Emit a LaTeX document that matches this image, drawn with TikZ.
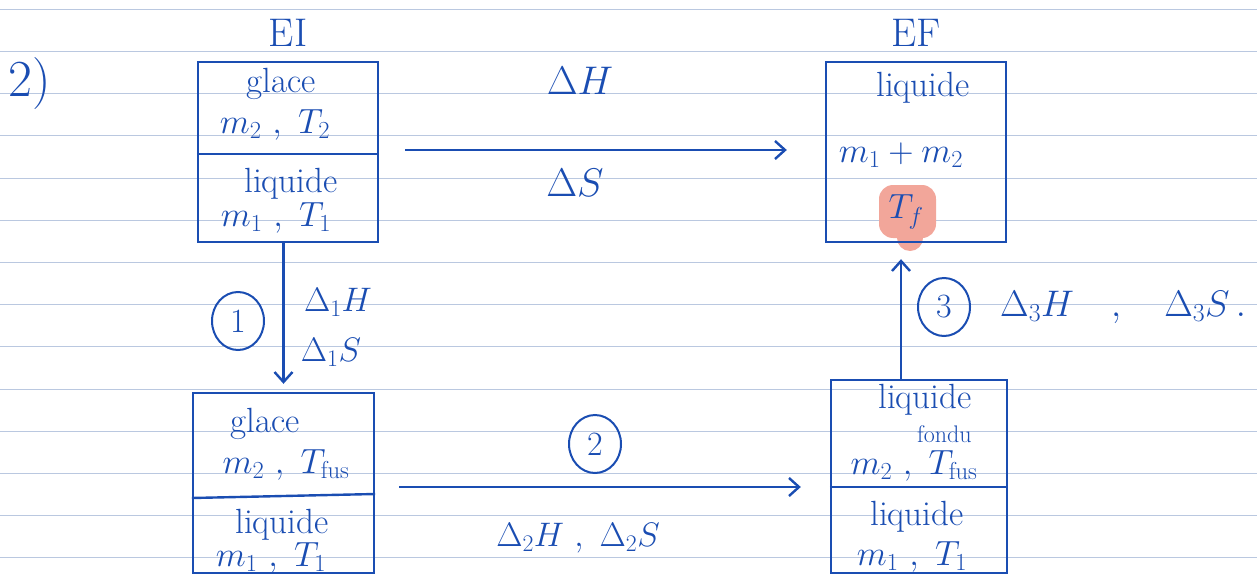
\documentclass[tikz,border=0pt]{standalone}
\usepackage{fontspec}
\usepackage{fix-cm}
\usepackage{xcolor}
\usepackage{tikz}
\usetikzlibrary{arrows.meta, positioning, shapes.geometric}
\definecolor{inkblue}{HTML}{1A4DB2}
\definecolor{ruleblue}{HTML}{BAC8E0}
\definecolor{marker}{HTML}{F2A69A}

\begin{document}
\begin{tikzpicture}[
  x=1pt, y=-1pt,
  node distance=12pt,
  every node/.style={text=inkblue, inner sep=0pt, font=\fontsize{35}{38}\selectfont},
  box/.style={draw=inkblue, line width=2.4pt, minimum width=180pt, minimum height=180pt},
  divider/.style={draw=inkblue, line width=2.4pt},
  big/.style={font=\fontsize{52}{58}\selectfont},
  mid/.style={font=\fontsize{40}{44}\selectfont},
  lbl/.style={font=\fontsize{34}{38}\selectfont},
  stepnum/.style={draw=inkblue, ellipse, line width=2pt, minimum width=52pt,
                  minimum height=58pt, font=\fontsize{34}{38}\selectfont},
  arr/.style={draw=inkblue, line width=2.4pt,
              -{Straight Barb[length=10pt, width=18pt, line width=2.4pt]}},
  ruling/.style={draw=ruleblue, line width=1pt}
]
\useasboundingbox (0,0) rectangle (1257,575);
\foreach \k in {0,...,13}
  \draw[ruling] (0,9.3+42.2*\k) -- (1257,9.3+42.2*\k);
\fill[marker, rounded corners=14pt] (879,185) rectangle (936,238);
\fill[marker] (910,238) circle (13pt);

\node[big] (part) at (30,84) {2)};

\node[box] (EI) at (288,152) {};
\node[box] (EF) at (916,152) {};
\node[box, minimum width=181pt] (G1) at (283.5,483) {};
\node[box, minimum width=176pt, minimum height=193pt] (G2) at (919,476.5) {};
\draw[divider] (EI.west |- 0,154) -- (EI.east |- 0,154);
\draw[divider] (G1.west |- 0,498) -- (G1.east |- 0,494);
\draw[divider] (G2.west |- 0,487) -- (G2.east |- 0,487);

\node[mid, above=14pt of EI] (EIlbl) {EI};
\node[mid, above=14pt of EF] (EFlbl) {EF};

\node (EIice) at (281,84) {glace};
\node (EIicem) at (275,125) {$m_2\ ,\ T_2$};
\node (EIliq) at (291,184) {liquide};
\node (EIliqm) at (276,218) {$m_1\ ,\ T_1$};

\node (EFliq) at (923,88) {liquide};
\node (EFm) at (901,155) {$m_1 + m_2$};
\node (EFT) at (906,212) {$T_f$};

\node (G1ice) at (265,424) {glace};
\node (G1icem) at (286,465) {$m_2\ ,\ T_{\mathrm{fus}}$};
\node (G1liq) at (282,525) {liquide};
\node (G1liqm) at (271,558) {$m_1\ ,\ T_1$};

\node[align=right] (G2melt) at (925,413) {liquide\\[-4pt]{\fontsize{24}{26}\selectfont fondu}};
\node (G2meltm) at (914,466) {$m_2\ ,\ T_{\mathrm{fus}}$};
\node (G2liq) at (917,517) {liquide};
\node (G2liqm) at (912,557) {$m_1\ ,\ T_1$};

\draw[arr, shorten <=26pt, shorten >=38pt] ([yshift=2pt]EI.east) -- ([yshift=2pt]EF.west);
\node[mid] (dH) at (580,81) {$\Delta H$};
\node[mid] (dS) at (575,183) {$\Delta S$};

\draw[arr, shorten >=8pt] (G1.north |- EI.south) -- (G1.north);
\node[stepnum] (n1) at (238,321) {1};
\node[lbl] (d1H) at (338,302) {$\Delta_1 H$};
\node[lbl] (d1S) at (331,352) {$\Delta_1 S$};

\draw[arr, shorten <=24pt, shorten >=29pt] ([yshift=-4pt]G1.east) -- ([yshift=-4pt]G1.east -| G2.west);
\node[stepnum] (n2) at (595,444) {2};
\node[lbl] (d2) at (578,538) {$\Delta_2 H\ ,\ \Delta_2 S$};

\draw[arr, shorten >=16pt] ([xshift=-18pt]G2.north) -- ([xshift=-18pt]G2.north |- EF.south);
\node[stepnum] (n3) at (944,307) {3};
\node[lbl, font=\fontsize{37}{40}\selectfont, anchor=west] (d3) at (1000,307) {$\Delta_3 H \quad , \quad \Delta_3 S\,.$};
\end{tikzpicture}
\end{document}
